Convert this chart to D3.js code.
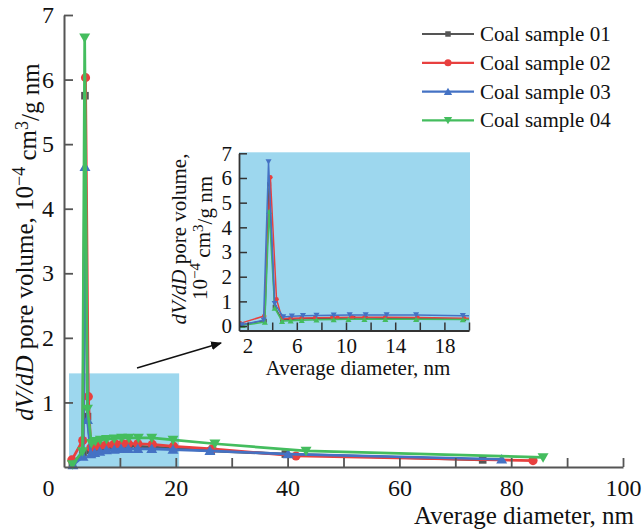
<!DOCTYPE html>
<html>
<head>
<meta charset="utf-8">
<script src="https://cdn.jsdelivr.net/npm/d3@7"></script>
<style>
  html, body { margin: 0; padding: 0; background: #fff; }
  svg { display: block; }
  text { font-family: "Liberation Serif", "Times New Roman", serif; fill: #111; }
</style>
</head>
<body>
<svg id="chart" width="642" height="531"></svg>
<script>
// Pore size distribution (dV/dD) for four coal samples
const sampleNames = ["Coal sample 01", "Coal sample 02", "Coal sample 03", "Coal sample 04"];

const diam01 = [1.5, 3.4, 3.75, 4.2, 4.8, 5.5, 6.4, 7.5, 8.9, 10.6, 11.6, 13.2, 15.8, 19.6, 26.3, 39.6, 74.9];
const dvdd01 = [0.05, 0.22, 5.75, 0.78, 0.26, 0.28, 0.30, 0.31, 0.32, 0.33, 0.33, 0.32, 0.31, 0.29, 0.25, 0.20, 0.11];

const diam02 = [1.4, 3.35, 3.85, 4.35, 4.8, 5.5, 6.4, 7.5, 8.9, 9.3, 10.5, 11.5, 13.2, 15.8, 19.6, 26.5, 41.5, 83.9];
const dvdd02 = [0.11, 0.41, 6.03, 1.09, 0.30, 0.32, 0.33, 0.34, 0.35, 0.35, 0.36, 0.36, 0.36, 0.35, 0.32, 0.28, 0.17, 0.10];

const diam03 = [1.6, 3.4, 3.75, 4.2, 4.8, 5.5, 6.4, 7.6, 9.0, 10.2, 11.5, 13.2, 15.7, 19.5, 26.1, 40.1, 78.3];
const dvdd03 = [0.03, 0.16, 4.65, 0.73, 0.20, 0.22, 0.24, 0.26, 0.27, 0.28, 0.28, 0.28, 0.28, 0.27, 0.25, 0.20, 0.12];

const diam04 = [1.5, 3.3, 3.7, 4.2, 4.9, 5.6, 6.5, 7.6, 9.0, 10.3, 11.6, 13.3, 15.7, 19.5, 27.0, 43.3, 85.7];
const dvdd04 = [0.04, 0.24, 6.65, 0.90, 0.37, 0.40, 0.42, 0.43, 0.44, 0.45, 0.45, 0.45, 0.45, 0.42, 0.36, 0.25, 0.15];

const xTicksMain = [0, 10, 20, 30, 40, 50, 60, 70, 80, 90, 100];
const yTicksMain = [1, 2, 3, 4, 5, 6, 7];
const xTicksInset = [2, 4, 6, 8, 10, 12, 14, 16, 18, 20];
const yTicksInset = [0, 1, 2, 3, 4, 5, 6, 7];

// region of the main plot that the inset magnifies
const zoomWindowX = [0.9, 20.6];
const zoomWindowY = [0, 1.45];

const diams = [diam01, diam02, diam03, diam04];
const values = [dvdd01, dvdd02, dvdd03, dvdd04];
const series = sampleNames.map((name, i) => ({
  name,
  points: diams[i].map((d, j) => ({ d, v: values[i][j] }))
}));

const palette = { gray: "#555555", red: "#e8403f", blue: "#4472c4", green: "#44bd5e" };
const mainColors = [palette.gray, palette.red, palette.blue, palette.green];
// the inset uses blue for sample 04 and green for sample 03
const insetColors = [palette.gray, palette.red, palette.green, palette.blue];
const mainShapes = ["square", "circle", "up", "down"];
const insetShapes = ["square", "circle", "up", "down"];

function symbolPath(shape, area) {
  const type = shape === "square" ? d3.symbolSquare
             : shape === "circle" ? d3.symbolCircle
             : d3.symbolTriangle;
  return d3.symbol().type(type).size(area)();
}
function drawMarker(g, shape, area, color, x, y) {
  const rot = shape === "down" ? 180 : 0;
  const dy = shape === "up" ? 1 : shape === "down" ? -1 : 0;
  g.append("path")
    .attr("d", symbolPath(shape, area))
    .attr("transform", `translate(${x},${y + dy}) rotate(${rot})`)
    .attr("fill", color);
}

const svg = d3.select("#chart");
const axisColor = "#555";
const intFormat = d3.format("d");

// ---------- main plot ----------
const x = d3.scaleLinear().domain([0, 100]).range([64, 623]);
const y = d3.scaleLinear().domain([0, 7]).range([467, 15]);

// highlighted zoom window
svg.append("rect")
  .attr("x", x(zoomWindowX[0]))
  .attr("y", y(zoomWindowY[1]))
  .attr("width", x(zoomWindowX[1]) - x(zoomWindowX[0]))
  .attr("height", y(zoomWindowY[0]) - y(zoomWindowY[1]))
  .attr("fill", "#9dd7ee");

const mainLine = d3.line().x(p => x(p.d)).y(p => y(p.v));
const gMain = svg.append("g");
series.forEach((s, i) => {
  const g = gMain.append("g");
  g.append("path")
    .attr("d", mainLine(s.points))
    .attr("fill", "none")
    .attr("stroke", mainColors[i])
    .attr("stroke-width", 2.7)
    .attr("stroke-linejoin", "round");
  const area = mainShapes[i] === "circle" ? 66 : mainShapes[i] === "square" ? 58 : 52;
  s.points.forEach(p => drawMarker(g, mainShapes[i], area, mainColors[i], x(p.d), y(p.v)));
});

// axes
const xAxis = d3.axisBottom(x)
  .tickValues(xTicksMain)
  .tickSizeInner(-9).tickSizeOuter(0).tickPadding(12)
  .tickFormat(d => d % 20 === 0 ? intFormat(d) : "");
const gx = svg.append("g").attr("transform", `translate(0,${y(0)})`).call(xAxis);
gx.selectAll("text").style("font-size", "24px").attr("fill", "#111");
gx.selectAll(".tick").filter(d => d === 0).select("text").attr("x", -16);
gx.selectAll(".tick").filter(d => d === 0).select("line").remove();

const yAxis = d3.axisLeft(y)
  .tickValues(yTicksMain)
  .tickSizeInner(-9).tickSizeOuter(0).tickPadding(10)
  .tickFormat(intFormat);
const gy = svg.append("g").attr("transform", `translate(${x(0)},0)`).call(yAxis);
gy.selectAll("text").style("font-size", "24px").attr("fill", "#111");

[gx, gy].forEach(g => {
  g.select(".domain").attr("stroke", axisColor).attr("stroke-width", 2);
  g.selectAll(".tick line").attr("stroke", axisColor).attr("stroke-width", 1.8);
});

// axis titles
svg.append("text")
  .attr("x", 634).attr("y", 524)
  .attr("text-anchor", "end")
  .style("font-size", "25px")
  .text("Average diameter, nm");

function unitTitle(textSel, withUnits, withLabel) {
  if (withLabel) {
    textSel.append("tspan").style("font-style", "italic").text("dV/dD");
    textSel.append("tspan").text(withUnits ? " pore volume, " : " pore volume,");
  }
  if (withUnits) {
    textSel.append("tspan").text("10");
    textSel.append("tspan").attr("dy", "-0.45em").style("font-size", "0.72em").text("\u22124");
    textSel.append("tspan").attr("dy", "0.45em").text(" cm");
    textSel.append("tspan").attr("dy", "-0.45em").style("font-size", "0.72em").text("3");
    textSel.append("tspan").attr("dy", "0.45em").text("/g nm");
  }
}
const yTitle = svg.append("text")
  .attr("transform", "translate(33,242) rotate(-90)")
  .attr("text-anchor", "middle")
  .style("font-size", "25px");
unitTitle(yTitle, true, true);

// arrow pointing to the inset
svg.append("defs").append("marker")
  .attr("id", "arrowhead")
  .attr("viewBox", "0 0 10 10")
  .attr("refX", 9).attr("refY", 5)
  .attr("markerWidth", 11).attr("markerHeight", 11)
  .attr("markerUnits", "userSpaceOnUse")
  .attr("orient", "auto")
  .append("path").attr("d", "M0,1 L10,5 L0,9 Z").attr("fill", "#111");
svg.append("line")
  .attr("x1", 137).attr("y1", 368)
  .attr("x2", 221).attr("y2", 343)
  .attr("stroke", "#111").attr("stroke-width", 1.5)
  .attr("marker-end", "url(#arrowhead)");

// ---------- legend ----------
const legend = svg.append("g");
series.forEach((s, i) => {
  const ly = 34 + i * 28.8;
  legend.append("line")
    .attr("x1", 422).attr("x2", 474).attr("y1", ly).attr("y2", ly)
    .attr("stroke", mainColors[i]).attr("stroke-width", 2.2);
  const area = mainShapes[i] === "circle" ? 40 : 30;
  drawMarker(legend, mainShapes[i], area, mainColors[i], 448, ly);
  legend.append("text")
    .attr("x", 480).attr("y", ly + 7)
    .style("font-size", "21px")
    .text(s.name);
});

// ---------- inset ----------
const xi = d3.scaleLinear().domain([1.3, 20]).range([239, 469]);
const yi = d3.scaleLinear().domain([-0.18, 7]).range([330.5, 153.3]);

svg.append("rect")
  .attr("x", xi.range()[0]).attr("y", yi.range()[1] - 1)
  .attr("width", xi.range()[1] - xi.range()[0] + 1)
  .attr("height", yi.range()[0] - yi.range()[1] + 1)
  .attr("fill", "#9dd7ee");

svg.select("defs").append("clipPath").attr("id", "insetClip")
  .append("rect")
  .attr("x", xi.range()[0]).attr("y", yi.range()[1] - 4)
  .attr("width", xi.range()[1] - xi.range()[0])
  .attr("height", yi.range()[0] - yi.range()[1] + 4);

const insetLine = d3.line().x(p => xi(p.d)).y(p => yi(p.v));
const gInset = svg.append("g").attr("clip-path", "url(#insetClip)");
series.forEach((s, i) => {
  const g = gInset.append("g");
  g.append("path")
    .attr("d", insetLine(s.points))
    .attr("fill", "none")
    .attr("stroke", insetColors[i])
    .attr("stroke-width", 1.5)
    .attr("stroke-linejoin", "round");
  s.points.filter(p => p.d <= 20).forEach(p =>
    drawMarker(g, insetShapes[i], 16, insetColors[i], xi(p.d), yi(p.v)));
});

const xiAxis = d3.axisBottom(xi)
  .tickValues(xTicksInset)
  .tickSizeInner(-8).tickSizeOuter(0).tickPadding(8)
  .tickFormat(d => (d - 2) % 4 === 0 ? intFormat(d) : "");
const gxi = svg.append("g").attr("transform", `translate(0,${yi.range()[0]})`).call(xiAxis);
gxi.selectAll("text").style("font-size", "21px").attr("fill", "#111");

const yiAxis = d3.axisLeft(yi)
  .tickValues(yTicksInset)
  .tickSizeInner(-8).tickSizeOuter(0).tickPadding(7)
  .tickFormat(intFormat);
const gyi = svg.append("g").attr("transform", `translate(${xi.range()[0]},0)`).call(yiAxis);
gyi.selectAll("text").style("font-size", "21px").attr("fill", "#111");

[gxi, gyi].forEach(g => {
  g.select(".domain").attr("stroke", "#333").attr("stroke-width", 1.8);
  g.selectAll(".tick line").attr("stroke", "#333").attr("stroke-width", 1.5);
});

svg.append("text")
  .attr("x", 358).attr("y", 375)
  .attr("text-anchor", "middle")
  .style("font-size", "21px")
  .text("Average diameter, nm");

const yiTitle1 = svg.append("text")
  .attr("transform", "translate(186,239) rotate(-90)")
  .attr("text-anchor", "middle")
  .style("font-size", "21px");
unitTitle(yiTitle1, false, true);
const yiTitle2 = svg.append("text")
  .attr("transform", "translate(207,238) rotate(-90)")
  .attr("text-anchor", "middle")
  .style("font-size", "21px");
unitTitle(yiTitle2, true, false);
</script>
</body>
</html>
